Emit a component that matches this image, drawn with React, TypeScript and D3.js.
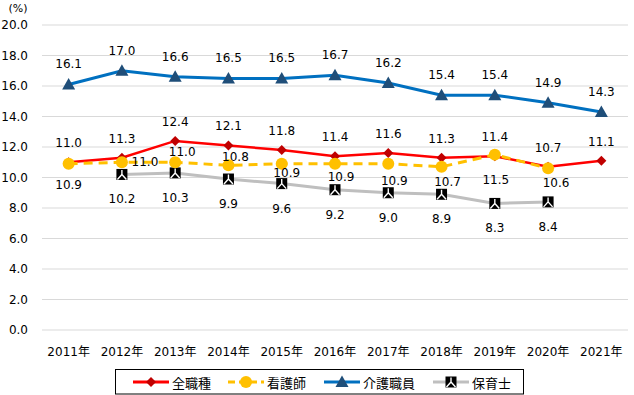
import React from "react";
import * as d3 from "d3";

const years = ["2011年","2012年","2013年","2014年","2015年","2016年","2017年","2018年","2019年","2020年","2021年"];
const allJobs = [11.0, 11.3, 12.4, 12.1, 11.8, 11.4, 11.6, 11.3, 11.4, 10.7, 11.1];
const nurses: (number | null)[] = [10.9, 11.0, 11.0, 10.8, 10.9, 10.9, 10.9, 10.7, 11.5, 10.6, null];
const careWorkers = [16.1, 17.0, 16.6, 16.5, 16.5, 16.7, 16.2, 15.4, 15.4, 14.9, 14.3];
const childcare: (number | null)[] = [null, 10.2, 10.3, 9.9, 9.6, 9.2, 9.0, 8.9, 8.3, 8.4, null];
const yTicks = [0, 2, 4, 6, 8, 10, 12, 14, 16, 18, 20];
const seriesNames = ["全職種", "看護師", "介護職員", "保育士"];

// label offsets for 看護師 (manual placement in original)
const nurseDx = [0, 23, 7, 7, 5, 6, 6, 6, 1, 8];
const nurseDy = [21, 0, -10, -8, 9, 13, 17, 15, 25, 15];

const W = 634, H = 395;
const FONT = "'DejaVu Sans', Verdana, 'Noto Sans CJK JP', sans-serif";

function Marker({ kind, x, y }: { kind: number; x: number; y: number }) {
  if (kind === 0) {
    const s = 5;
    return <path d={`M${x},${y - s}L${x + s},${y}L${x},${y + s}L${x - s},${y}Z`} fill="#c00000" />;
  }
  if (kind === 1) return <circle cx={x} cy={y} r={6} fill="#ffc000" />;
  if (kind === 2) {
    return <path d={`M${x},${y - 6.5}L${x + 6.5},${y + 5}L${x - 6.5},${y + 5}Z`} fill="#1f4e79" />;
  }
  return (
    <g>
      <rect x={x - 5.5} y={y - 5.5} width={11} height={11} fill="#000" />
      <path d={`M${x},${y - 4.5}L${x},${y}M${x},${y}L${x - 4.5},${y + 5}M${x},${y}L${x + 4.5},${y + 5}`} stroke="#fff" strokeWidth={1.4} fill="none" />
    </g>
  );
}

export default function App() {
  const x = d3.scaleBand<string>().domain(years).range([42, 628]);
  const y = d3.scaleLinear().domain([0, 20]).range([330, 25]);
  const cx = (i: number) => (x(years[i]) as number) + x.bandwidth() / 2;

  const lineGen = d3.line<number | null>()
    .defined((d) => d != null)
    .x((_, i) => cx(i))
    .y((d) => y(d as number));

  const series = [
    { data: allJobs as (number | null)[], color: "#ff0000", width: 2.5, dash: undefined as string | undefined },
    { data: nurses, color: "#ffc000", width: 3, dash: "9,6" },
    { data: careWorkers as (number | null)[], color: "#0070c0", width: 3, dash: undefined },
    { data: childcare, color: "#bfbfbf", width: 3, dash: undefined },
  ];

  const labelOffset = (s: number, i: number): [number, number] => {
    if (s === 0) return [0, -19];
    if (s === 1) return [nurseDx[i] ?? 0, nurseDy[i] ?? 20];
    if (s === 2) return [0, -20];
    return [0, 25];
  };

  const drawOrder = [3, 0, 1, 2];
  const legendX = [133, 228, 324, 433];

  return (
    <svg width={W} height={H} style={{ position: "absolute", left: 0, top: 0, fontFamily: FONT }}>
      <rect width={W} height={H} fill="#fff" />
      {yTicks.map((t) => (
        <g key={t}>
          <line x1={42} x2={628} y1={y(t)} y2={y(t)} stroke="#d9d9d9" strokeWidth={1} />
          <text x={28} y={y(t)} textAnchor="end" dominantBaseline="central" fontSize={12} fill="#000">
            {t.toFixed(1)}
          </text>
        </g>
      ))}
      <text x={18} y={8} textAnchor="middle" dominantBaseline="central" fontSize={11} fill="#000">(%)</text>
      {years.map((yr, i) => (
        <text key={yr} x={cx(i)} y={352} textAnchor="middle" dominantBaseline="central" fontSize={12} fill="#000">
          {yr}
        </text>
      ))}
      {drawOrder.map((s) => (
        <g key={s}>
          <path d={lineGen(series[s].data) || ""} fill="none" stroke={series[s].color} strokeWidth={series[s].width}
            strokeDasharray={series[s].dash} />
          {series[s].data.map((v, i) => v == null ? null : <Marker key={i} kind={s} x={cx(i)} y={y(v)} />)}
        </g>
      ))}
      {[0, 1, 2, 3].map((s) => (
        <g key={"l" + s}>
          {series[s].data.map((v, i) => {
            if (v == null) return null;
            const [dx, dy] = labelOffset(s, i);
            return (
              <text key={i} x={cx(i) + dx} y={y(v) + dy} textAnchor="middle" dominantBaseline="central" fontSize={12} fill="#000">
                {v.toFixed(1)}
              </text>
            );
          })}
        </g>
      ))}
      <rect x={115.5} y={369.5} width={408} height={24.5} fill="#fff" stroke="#000" strokeWidth={1} />
      {seriesNames.map((n, s) => (
        <g key={n}>
          <line x1={legendX[s]} x2={legendX[s] + 36} y1={382} y2={382} stroke={series[s].color} strokeWidth={3}
            strokeDasharray={s === 1 ? "7,4" : undefined} />
          <Marker kind={s} x={legendX[s] + 18} y={382} />
          <text x={legendX[s] + 39} y={382} dominantBaseline="central" fontSize={13} fill="#000"
            fontFamily="'Noto Sans CJK JP', sans-serif">{n}</text>
        </g>
      ))}
    </svg>
  );
}
